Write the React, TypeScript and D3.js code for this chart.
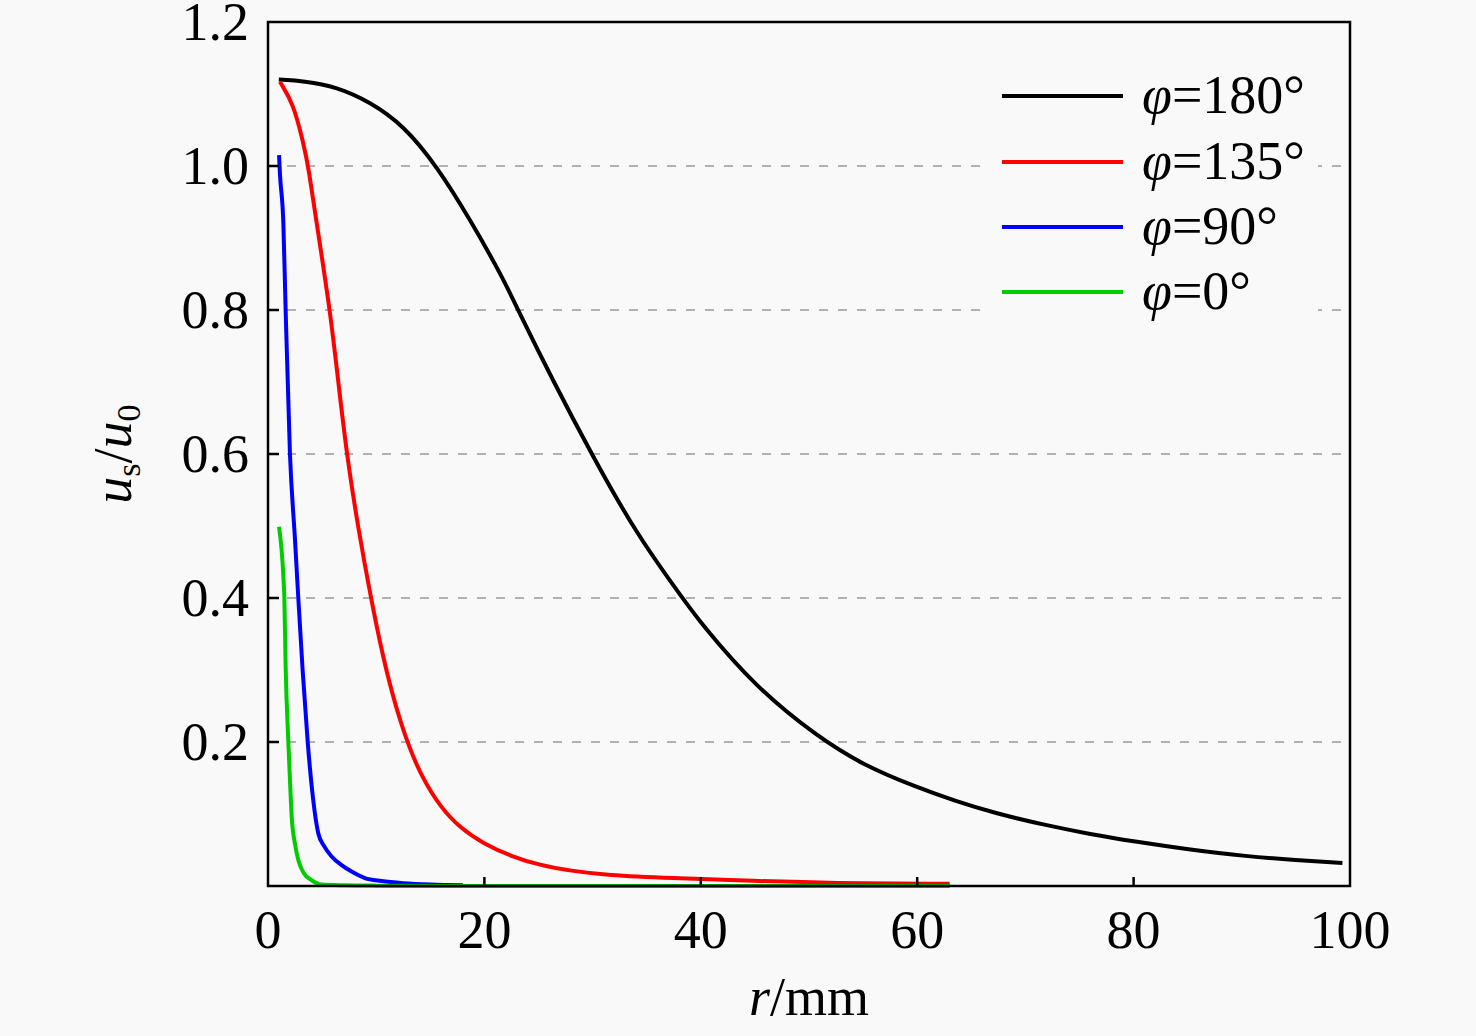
import React from "react";
import * as d3 from "d3";

const xTicks = [0, 20, 40, 60, 80, 100];
const yTickLabels = ["0.2", "0.4", "0.6", "0.8", "1.0", "1.2"];
const yTicks = [0.2, 0.4, 0.6, 0.8, 1.0, 1.2];

const r180 = [1, 3.3, 6.35, 9.43, 12.5, 15.6, 18.7, 21.7, 23.1, 26.4, 29.9, 34, 38.3, 40, 45, 50.8, 55, 59.8, 63.5, 67.2, 72, 76, 80, 85, 90.5, 95, 99.3];
const u180 = [1.12, 1.118, 1.11, 1.089, 1.057, 1.0, 0.925, 0.845, 0.8, 0.7, 0.6, 0.49, 0.4, 0.365, 0.277, 0.207, 0.168, 0.138, 0.118, 0.101, 0.084, 0.072, 0.062, 0.051, 0.041, 0.036, 0.032];

const r135 = [1.1, 2.34, 3.27, 3.73, 4.7, 5.73, 6.5, 7.27, 8.3, 9.5, 11, 12.8, 14.2, 15.9, 17.8, 19.9, 22.5, 25.1, 28, 31.3, 37.2, 45, 52, 63];
const u135 = [1.117, 1.087, 1.032, 1.0, 0.9, 0.8, 0.7, 0.6, 0.5, 0.4, 0.29, 0.2, 0.152, 0.11, 0.08, 0.059, 0.041, 0.029, 0.021, 0.015, 0.011, 0.007, 0.004, 0.003];

const r90 = [1.02, 1.1, 1.42, 1.63, 2.03, 2.5, 2.8, 3.2, 3.67, 4.1, 4.65, 5.2, 5.88, 6.8, 7.73, 8.96, 10.5, 12.5, 15, 18];
const u90 = [1.015, 0.99, 0.92, 0.8, 0.6, 0.48, 0.4, 0.3, 0.2, 0.13, 0.073, 0.055, 0.041, 0.029, 0.02, 0.011, 0.007, 0.004, 0.002, 0.001];

const r0 = [1.02, 1.42, 1.51, 1.63, 1.88, 2.05, 2.19, 2.5, 2.8, 3.3, 4.04, 4.96, 7, 10, 20, 40, 63];
const u0 = [0.499, 0.43, 0.4, 0.305, 0.2, 0.14, 0.096, 0.058, 0.036, 0.018, 0.008, 0.002, 0.001, 0.0005, 0.0, 0.0, 0.0];

const seriesNames = ["φ=180°", "φ=135°", "φ=90°", "φ=0°"];
const seriesColors = ["#000000", "#ff0000", "#0000ff", "#00cc00"];
const seriesR = [r180, r135, r90, r0];
const seriesU = [u180, u135, u90, u0];

const W = 1476;
const H = 1036;
const left = 268;
const right = 1350;
const top = 22;
const bottom = 886;
const font = "'Liberation Serif', 'Times New Roman', serif";
const fs = 54;

export default function App() {
  const x = d3.scaleLinear().domain([0, 100]).range([left, right]);
  const y = d3.scaleLinear().domain([0, 1.2]).range([bottom, top]);
  const smooth = d3
    .line<[number, number]>()
    .x((d) => x(d[0]))
    .y((d) => y(d[1]))
    .curve(d3.curveBasis);
  const mono = d3
    .line<[number, number]>()
    .x((d) => x(d[0]))
    .y((d) => y(d[1]))
    .curve(d3.curveMonotoneX);

  const legendY = [96, 162, 227, 292];

  return (
    <div style={{ position: "absolute", left: 0, top: 0 }}>
      <svg width={W} height={H} style={{ display: "block", background: "#f9f9f9" }}>
        <rect x={0} y={0} width={W} height={H} fill="#f9f9f9" />
        {yTicks.slice(0, 5).map((t) => (
          <line key={t} x1={left} x2={right} y1={y(t)} y2={y(t)} stroke="#999" strokeWidth={1.5} strokeDasharray="9,10" />
        ))}
        {seriesR.map((rs, i) => {
          const pts = rs.map((r, j) => [r, seriesU[i][j]] as [number, number]);
          const gen = i < 2 ? smooth : mono;
          return <path key={i} d={gen(pts) || ""} fill="none" stroke={seriesColors[i]} strokeWidth={4} strokeLinejoin="round" />;
        })}
        {/* legend background */}
        <rect x={990} y={58} width={328} height={262} fill="#f9f9f9" />
        {seriesNames.map((n, i) => (
          <g key={n}>
            <line x1={1002} x2={1123} y1={legendY[i]} y2={legendY[i]} stroke={seriesColors[i]} strokeWidth={4} />
            <text x={1142} y={legendY[i] + 17} fontFamily={font} fontSize={fs} fill="#000">
              <tspan fontStyle="italic">φ</tspan>
              <tspan>{n.slice(1)}</tspan>
            </text>
          </g>
        ))}
        {/* frame */}
        <rect x={left} y={top} width={right - left} height={bottom - top} fill="none" stroke="#000" strokeWidth={2.5} />
        {xTicks.slice(1, 5).map((t) => (
          <line key={t} x1={x(t)} x2={x(t)} y1={bottom} y2={bottom - 9} stroke="#000" strokeWidth={2.5} />
        ))}
        {yTicks.slice(0, 5).map((t) => (
          <line key={t} x1={left} x2={left + 11} y1={y(t)} y2={y(t)} stroke="#000" strokeWidth={2.5} />
        ))}
        {xTicks.map((t) => (
          <text key={t} x={x(t)} y={948} textAnchor="middle" fontFamily={font} fontSize={fs} fill="#000">
            {t}
          </text>
        ))}
        {yTicks.map((t, i) => (
          <text key={t} x={249} y={y(t) + 18} textAnchor="end" fontFamily={font} fontSize={fs} fill="#000">
            {yTickLabels[i]}
          </text>
        ))}
        <text x={809} y={1015} textAnchor="middle" fontFamily={font} fontSize={fs} fill="#000">
          <tspan fontStyle="italic">r</tspan>
          <tspan>/mm</tspan>
        </text>
        <text transform="translate(131,454) rotate(-90)" textAnchor="middle" fontFamily={font} fontSize={fs} fill="#000">
          <tspan fontStyle="italic">u</tspan>
          <tspan fontSize={34} dy={9}>s</tspan>
          <tspan dy={-9}>/</tspan>
          <tspan fontStyle="italic">u</tspan>
          <tspan fontSize={34} dy={9}>0</tspan>
        </text>
      </svg>
    </div>
  );
}
